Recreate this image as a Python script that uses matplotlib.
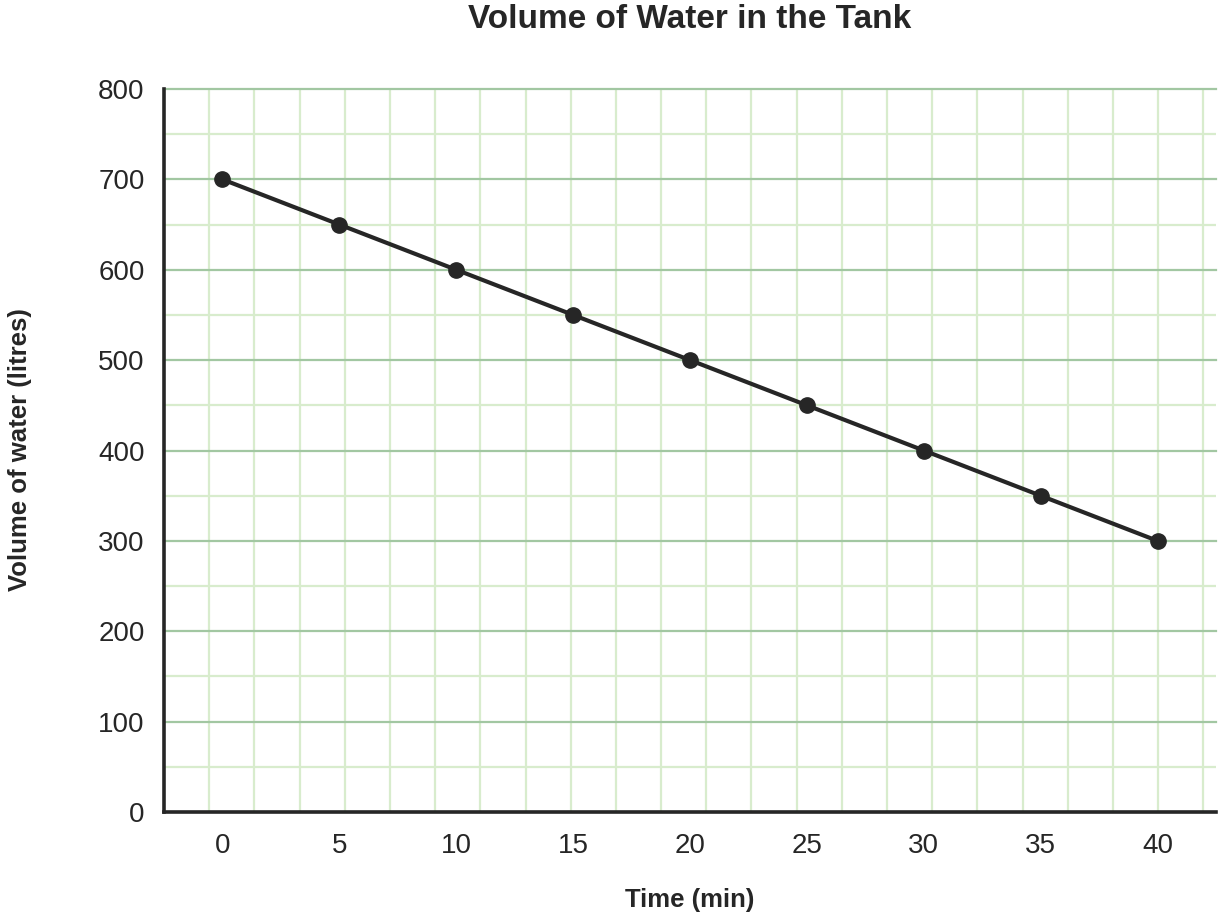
import numpy as np
import matplotlib
matplotlib.use("Agg")
import matplotlib.pyplot as plt
from matplotlib.ticker import MultipleLocator, FixedLocator

# Data
time_min = [0, 5, 10, 15, 20, 25, 30, 35, 40]
volume_l = [700, 650, 600, 550, 500, 450, 400, 350, 300]
x_ticks = [0, 5, 10, 15, 20, 25, 30, 35, 40]
y_ticks = [0, 100, 200, 300, 400, 500, 600, 700, 800]

title = "Volume of Water in the Tank"
xlabel = "Time (min)"
ylabel = "Volume of water (litres)"

plt.rcParams['font.family'] = ['Liberation Sans', 'DejaVu Sans']

W, H = 1224, 922
fig = plt.figure(figsize=(W / 100, H / 100), dpi=100)
ax_l, ax_r, ax_t, ax_b = 164, 1216, 89, 812
ax = fig.add_axes([ax_l / W, 1 - ax_b / H, (ax_r - ax_l) / W, (ax_b - ax_t) / H])

xmin, xmax = -2.5, 42.5
ymin, ymax = 0, 800
ax.set_xlim(xmin, xmax)
ax.set_ylim(ymin, ymax)

major_c = '#a2c7a2'
minor_c = '#d8eccd'
text_c = '#262626'

# horizontal grid
ax.yaxis.set_major_locator(FixedLocator(y_ticks))
ax.yaxis.set_minor_locator(MultipleLocator(50))
ax.grid(which='major', axis='y', color=major_c, linewidth=1.6, zorder=1)
ax.grid(which='minor', axis='y', color=minor_c, linewidth=1.6, zorder=0)
for gl in ax.get_ygridlines():
    gl.set_clip_on(False)

# vertical square grid: same pixel spacing as horizontal minor lines, from left spine
px_per_y = (ax_b - ax_t) / (ymax - ymin)
px_per_x = (ax_r - ax_l) / (xmax - xmin)
step = 50 * px_per_y / px_per_x
vx = np.arange(xmin + step, xmax - 0.1, step)
for v in vx:
    ax.axvline(v, color=minor_c, linewidth=1.6, zorder=0)

ax.set_xticks(x_ticks)
ax.set_yticks(y_ticks)
ax.tick_params(axis='both', which='both', length=0, labelsize=20, colors=text_c)
ax.tick_params(axis='y', pad=14)
ax.tick_params(axis='x', pad=15)

for s in ['top', 'right']:
    ax.spines[s].set_visible(False)
for s in ['left', 'bottom']:
    ax.spines[s].set_color('#262626')
    ax.spines[s].set_linewidth(2.6)
    ax.spines[s].set_zorder(5)

ax.plot(time_min, volume_l, color='#262626', linewidth=3, marker='o',
        markersize=11, zorder=6, clip_on=False)

fig.text((ax_l + ax_r) / 2 / W, 1 - 20 / H, title, ha='center', va='center',
         fontsize=24, fontweight='bold', color=text_c)
fig.text((ax_l + ax_r) / 2 / W, 1 - 900 / H, xlabel, ha='center', va='center',
         fontsize=18.5, fontweight='bold', color=text_c)
fig.text(20 / W, 1 - 450 / H, ylabel, ha='center', va='center', rotation=90,
         fontsize=18.5, fontweight='bold', color=text_c)

fig.savefig('out.png', dpi=100)
